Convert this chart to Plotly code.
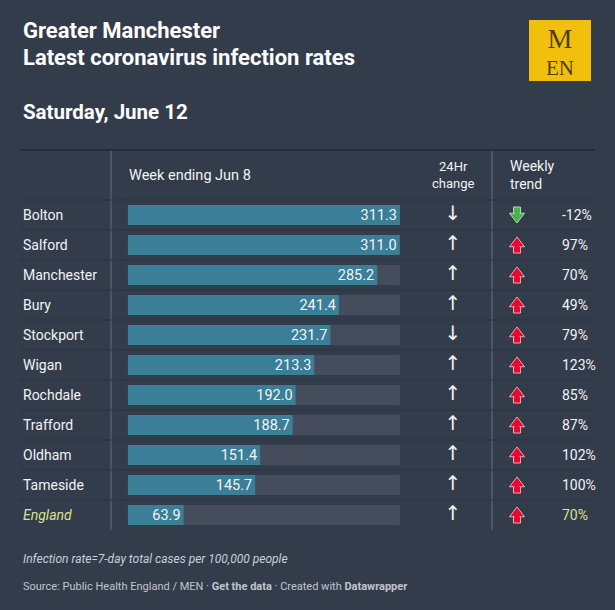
import plotly.graph_objects as go

# data
areas = ["Bolton", "Salford", "Manchester", "Bury", "Stockport", "Wigan",
         "Rochdale", "Trafford", "Oldham", "Tameside", "England"]
rates = [311.3, 311.0, 285.2, 241.4, 231.7, 213.3, 192.0, 188.7, 151.4, 145.7, 63.9]
change_24h = ["down", "up", "up", "up", "down", "up", "up", "up", "up", "up", "up"]
weekly_trend = [-12, 97, 70, 49, 79, 123, 85, 87, 102, 100, 70]

BG = "#333c4b"
BAR = "#3b7e98"
TRACK = "#454d5c"
TXT = "#f2f3f5"
ENG = "#d9e38f"

W, H = 615, 610
row_y = [215 + 30 * i for i in range(len(areas))]
max_rate = max(rates)

fig = go.Figure()

# grey track behind each bar
fig.add_trace(go.Bar(
    x=[max_rate] * len(areas), y=row_y, orientation="h", width=20,
    marker=dict(color=TRACK, line=dict(width=0)),
    xaxis="x2", yaxis="y", hoverinfo="skip",
))
# rate bars
fig.add_trace(go.Bar(
    x=rates, y=row_y, orientation="h", width=20,
    marker=dict(color=BAR, line=dict(width=0)),
    text=[f"{r:.1f}" for r in rates], textposition="inside",
    insidetextanchor="end", textangle=0, constraintext="none",
    textfont=dict(family="Roboto", size=14.5, color=TXT),
    xaxis="x2", yaxis="y",
))

# 24hr change arrows
fig.add_trace(go.Scatter(
    x=[453] * len(areas), y=row_y, mode="text",
    text=["↓" if c == "down" else "↑" for c in change_24h],
    textfont=dict(family="DejaVu Sans", size=20, color=TXT),
    xaxis="x", yaxis="y", hoverinfo="skip",
))

# weekly trend icons: block arrow = triangle head + square stem
up = [v >= 0 for v in weekly_trend]
fill = ["#e6092f" if u else "#4cb050" for u in up]
edge = ["#f6a8b6" if u else "#a6e3a8" for u in up]
sgn = [1 if u else -1 for u in up]
fig.add_trace(go.Scatter(  # stem
    x=[517] * len(areas), y=[yc + 4.5 * s for yc, s in zip(row_y, sgn)], mode="markers",
    marker=dict(symbol="square", size=7, color=fill, line=dict(width=1, color=edge)),
    xaxis="x", yaxis="y", hoverinfo="skip",
))
fig.add_trace(go.Scatter(  # head
    x=[517] * len(areas), y=[yc - 1.5 * s for yc, s in zip(row_y, sgn)], mode="markers",
    marker=dict(symbol=["triangle-up" if u else "triangle-down" for u in up], size=13,
                color=fill, line=dict(width=1, color=edge)),
    xaxis="x", yaxis="y", hoverinfo="skip",
))
fig.add_trace(go.Scatter(  # cover the seam between head and stem
    x=[517] * len(areas), y=[yc + 3.5 * s for yc, s in zip(row_y, sgn)], mode="markers",
    marker=dict(symbol="square", size=5, color=fill, line=dict(width=0)),
    xaxis="x", yaxis="y", hoverinfo="skip",
))

ann = []
# area names and percentages
for i, (a, v) in enumerate(zip(areas, weekly_trend)):
    eng = a == "England"
    ann.append(dict(x=21, y=row_y[i], text=f"<i>{a}</i>" if eng else a,
                    xanchor="left", font=dict(size=14, color=ENG if eng else TXT)))
    ann.append(dict(x=560, y=row_y[i], text=f"{v}%", xanchor="left",
                    font=dict(size=14, color=ENG if eng else TXT)))

# headers
ann += [
    dict(x=127, y=175, text="Week ending Jun 8", xanchor="left", font=dict(size=14.5, color=TXT)),
    dict(x=453, y=175, text="24Hr<br>change", xanchor="center", font=dict(size=13, color=TXT)),
    dict(x=508, y=175, text="Weekly<br>trend", xanchor="left", align="left", font=dict(size=14, color=TXT)),
]

# titles
ann += [
    dict(x=21, y=30, text="<b>Greater Manchester</b>", xanchor="left", font=dict(size=22, color="#ffffff")),
    dict(x=21, y=57, text="<b>Latest coronavirus infection rates</b>", xanchor="left", font=dict(size=22, color="#ffffff")),
    dict(x=21, y=112, text="<b>Saturday, June 12</b>", xanchor="left", font=dict(size=20.5, color="#ffffff")),
    dict(x=21, y=559, text="<i>Infection rate=7-day total cases per 100,000 people</i>", xanchor="left",
         font=dict(size=12, color="#c9ced6")),
    dict(x=21, y=586, text="Source: Public Health England / MEN · <b>Get the data</b> · Created with <b>Datawrapper</b>",
         xanchor="left", font=dict(size=11, color="#c0c5cd")),
    # logo letters
    dict(x=560, y=51, text="<span style='font-size:28px'>M</span><br>EN", xanchor="center", align="center",
         font=dict(family="Liberation Serif", size=21, color="#4d3f16")),
]
for a in ann:
    a.update(xref="x", yref="y", showarrow=False, yanchor="middle")

shapes = [
    # logo box
    dict(type="rect", x0=529, x1=591, y0=20, y1=81, fillcolor="#f3bf0d", line=dict(width=0), layer="below"),
    # top rule
    dict(type="line", x0=20, x1=595, y0=150, y1=150, line=dict(color="#262d38", width=2)),
    # column dividers
    dict(type="line", x0=111, x1=111, y0=151, y1=530, line=dict(color="#5b6372", width=1.3)),
    dict(type="line", x0=492, x1=492, y0=151, y1=530, line=dict(color="#5b6372", width=1.3)),
]
for yy in [200] + [230 + 30 * i for i in range(len(areas) - 1)]:
    shapes.append(dict(type="line", x0=20, x1=595, y0=yy, y1=yy, line=dict(color="#2b3341", width=1)))
for s in shapes:
    s.update(xref="x", yref="y")

fig.update_layout(
    width=W, height=H,
    margin=dict(l=0, r=0, t=0, b=0),
    paper_bgcolor=BG, plot_bgcolor=BG,
    font=dict(family="Roboto", color=TXT),
    barmode="overlay", showlegend=False,
    xaxis=dict(range=[0, W], domain=[0, 1], visible=False, fixedrange=True),
    xaxis2=dict(range=[0, max_rate], domain=[127.7 / W, 400 / W], anchor="y", visible=False, fixedrange=True),
    yaxis=dict(range=[H, 0], domain=[0, 1], visible=False, fixedrange=True),
    annotations=ann, shapes=shapes,
)

fig.write_html("out.html", config={"displayModeBar": False},
               post_script="document.body.style.margin='0';document.body.style.background='%s';" % BG)
